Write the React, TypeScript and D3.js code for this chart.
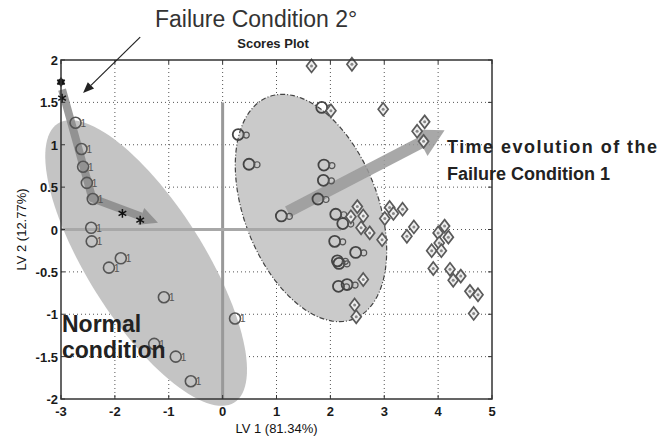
import React from 'react';
import * as d3 from 'd3';

const width = 662;
const height = 437;

// axis ticks
const xTicks = [-3, -2, -1, 0, 1, 2, 3, 4, 5];
const yTicks = [-2, -1.5, -1, -0.5, 0, 0.5, 1, 1.5, 2];

// normal condition (class 1) scores
const normalX = [-2.73, -2.62, -2.59, -2.52, -2.41, -2.44, -2.43, -1.89, -2.11, -1.09, 0.23, -1.27, -0.87, -0.59];
const normalY = [1.26, 0.95, 0.74, 0.55, 0.36, 0.02, -0.14, -0.34, -0.45, -0.8, -1.05, -1.35, -1.5, -1.79];

// failure condition 1, early samples (circles)
const circleX = [1.84, 0.29, 0.49, 1.88, 1.87, 1.77, 1.09, 2.1, 2.23, 2.08, 2.47, 2.13, 2.16, 2.15, 2.31];
const circleY = [1.44, 1.12, 0.77, 0.76, 0.58, 0.36, 0.16, 0.18, 0.07, -0.14, -0.27, -0.37, -0.4, -0.67, -0.65];

// failure condition 1, later samples (diamonds)
const diamondX = [1.65, 2.4, 2.01, 2.98, 3.75, 3.61, 3.73, 2.5, 2.38, 2.61, 2.57, 2.73, 2.96, 3.1, 3.34, 3.01, 3.17, 3.42,
  3.55, 4.12, 4.0, 4.19, 4.02, 3.88, 4.06, 3.91, 4.22, 4.28, 4.42, 4.59, 4.74, 4.66, 2.61, 2.45, 2.48];
const diamondY = [1.93, 1.95, 1.4, 1.42, 1.27, 1.16, 1.04, 0.27, 0.15, 0.16, 0.02, -0.04, -0.12, 0.26, 0.24, 0.13, 0.19, -0.08,
  0.03, 0.04, -0.04, -0.09, -0.16, -0.25, -0.25, -0.46, -0.47, -0.6, -0.55, -0.73, -0.77, -0.99, -0.59, -0.89, -1.03];

// failure condition 2 (stars)
const starX = [-3.0, -2.98, -1.86, -1.53];
const starY = [1.74, 1.55, 0.19, 0.11];

// annotation arrows (data units)
const normalArrowX = [-2.98, -2.42, -1.2];
const normalArrowY = [1.65, 0.37, 0.08];
const failArrowX = [1.21, 4.12];
const failArrowY = [0.21, 1.17];
const pointerX = [-1.53, -2.59];
const pointerY = [2.27, 1.61];

// class ellipses: centre in data units, radii in px, angle in degrees
const ellipseCx = [-1.42, 1.64];
const ellipseCy = [-0.395, 0.254];
const ellipseRx = [165, 119];
const ellipseRy = [58, 67];
const ellipseAngle = [57.7, 69];

const margin = { top: 60, right: 170, bottom: 38, left: 61 };
const x = d3.scaleLinear().domain([-3, 5]).range([margin.left, width - margin.right]);
const y = d3.scaleLinear().domain([-2, 2]).range([height - margin.bottom, margin.top]);

const ellipsePath = (i: number) => {
  const cx = x(ellipseCx[i]);
  const cy = y(ellipseCy[i]);
  const a = (ellipseAngle[i] * Math.PI) / 180;
  const pts: [number, number][] = d3.range(0, 120).map((k) => {
    const t = (k / 120) * Math.PI * 2;
    const ex = ellipseRx[i] * Math.cos(t);
    const ey = ellipseRy[i] * Math.sin(t);
    return [cx + ex * Math.cos(a) - ey * Math.sin(a), cy + ex * Math.sin(a) + ey * Math.cos(a)];
  });
  return d3.line().curve(d3.curveLinearClosed)(pts) as string;
};

// shaft + triangular head, all in px
const arrow = (xs: number[], ys: number[], headLen: number, headHalf: number) => {
  const pts = xs.map((v, i) => [x(v), y(ys[i])] as [number, number]);
  const tip = pts[pts.length - 1];
  const prev = pts[pts.length - 2];
  const dx = tip[0] - prev[0];
  const dy = tip[1] - prev[1];
  const len = Math.hypot(dx, dy);
  const ux = dx / len;
  const uy = dy / len;
  const base: [number, number] = [tip[0] - ux * headLen, tip[1] - uy * headLen];
  const shaft = d3.line()([...pts.slice(0, -1), base]) as string;
  const head = `M${tip[0]},${tip[1]}L${base[0] - uy * headHalf},${base[1] + ux * headHalf}L${base[0] + uy * headHalf},${base[1] - ux * headHalf}Z`;
  return { shaft, head };
};

const diamond = 'M0,-6.5L5,0L0,6.5L-5,0Z';
const asterisk = d3.symbol(d3.symbolAsterisk, 55)() as string;

const font = "'Liberation Sans', Arial, sans-serif";

export default function App() {
  const leftArrow = arrow(normalArrowX, normalArrowY, 18, 9);
  const rightArrow = arrow(failArrowX, failArrowY, 27, 15);
  const pointer = arrow(pointerX, pointerY, 11, 4.5);
  const x0 = margin.left;
  const x1 = width - margin.right;
  const y0 = margin.top;
  const y1 = height - margin.bottom;

  return (
    <div style={{ position: 'absolute', left: 0, top: 0 }}>
      <svg width={width} height={height} style={{ display: 'block', background: '#fff' }}>
        {/* dotted grid */}
        {xTicks.slice(1, -1).map((t) => (
          <line key={'gx' + t} x1={x(t)} x2={x(t)} y1={y0} y2={y1} stroke="#555" strokeWidth={1} strokeDasharray="1,3" />
        ))}
        {yTicks.slice(1, -1).map((t) => (
          <line key={'gy' + t} x1={x0} x2={x1} y1={y(t)} y2={y(t)} stroke="#555" strokeWidth={1} strokeDasharray="1,3" />
        ))}

        {/* class ellipses */}
        <path d={ellipsePath(0)} fill="#c4c4c4" />
        <path d={ellipsePath(1)} fill="#cacaca" stroke="#444" strokeWidth={1.2} strokeDasharray="5,2,1,2" />

        {/* zero lines */}
        <line x1={x(0)} x2={x(0)} y1={y(1.5)} y2={y1} stroke="#999" strokeWidth={3} />
        <line x1={x0} x2={x(2.2)} y1={y(0)} y2={y(0)} stroke="#a8a8a8" strokeWidth={3} />

        {/* evolution arrows */}
        <g opacity={0.85}>
          <path d={leftArrow.shaft} fill="none" stroke="#8a8a8a" strokeWidth={8} strokeLinejoin="round" />
          <path d={leftArrow.head} fill="#8a8a8a" />
          <path d={rightArrow.shaft} fill="none" stroke="#9a9a9a" strokeWidth={12} />
          <path d={rightArrow.head} fill="#9a9a9a" />
        </g>

        {/* normal condition points */}
        {normalX.map((v, i) => (
          <g key={'n' + i} transform={`translate(${x(v)},${y(normalY[i])})`}>
            <circle r={5.5} fill="none" stroke="#555" strokeWidth={1.6} />
            <text x={5} y={4} fontSize={10} fill="#555" fontFamily={font}>1</text>
          </g>
        ))}

        {/* failure 1 circles */}
        {circleX.map((v, i) => (
          <g key={'c' + i} transform={`translate(${x(v)},${y(circleY[i])})`}>
            <circle r={5.5} fill="none" stroke="#444" strokeWidth={1.8} />
            <circle cx={8} cy={0.5} r={3} fill="none" stroke="#555" strokeWidth={1.2} />
          </g>
        ))}

        {/* failure 1 diamonds */}
        {diamondX.map((v, i) => (
          <g key={'d' + i} transform={`translate(${x(v)},${y(diamondY[i])})`}>
            <path d={diamond} fill="#eee" stroke="#5a5a5a" strokeWidth={1.7} />
            <circle r={1.5} fill="#888" />
          </g>
        ))}

        {/* failure 2 stars */}
        <circle cx={x(starX[0])} cy={y(starY[0])} r={3.5} fill="#222" />
        {starX.map((v, i) => (
          <path key={'s' + i} d={asterisk} transform={`translate(${x(v)},${y(starY[i])})`} fill="none" stroke="#111" strokeWidth={1.5} />
        ))}

        {/* frame with inward ticks */}
        <rect x={x0} y={y0} width={x1 - x0} height={y1 - y0} fill="none" stroke="#333" strokeWidth={1.5} />
        {xTicks.map((t) => (
          <g key={'tx' + t}>
            <line x1={x(t)} x2={x(t)} y1={y1} y2={y1 - 4} stroke="#333" />
            <line x1={x(t)} x2={x(t)} y1={y0} y2={y0 + 4} stroke="#333" />
            <text x={x(t)} y={416} textAnchor="middle" fontSize={13} fontWeight="bold" fill="#1a1a1a" fontFamily={font}>{t}</text>
          </g>
        ))}
        {yTicks.map((t) => (
          <g key={'ty' + t}>
            <line x1={x0} x2={x0 + 4} y1={y(t)} y2={y(t)} stroke="#333" />
            <line x1={x1} x2={x1 - 4} y1={y(t)} y2={y(t)} stroke="#333" />
            <text x={x0 - 3} y={y(t) + 5} textAnchor="end" fontSize={13} fontWeight="bold" fill="#1a1a1a" fontFamily={font}>{t}</text>
          </g>
        ))}

        {/* axis labels */}
        <text x={(x0 + x1) / 2} y={433} textAnchor="middle" fontSize={13} fill="#111" fontFamily={font}>LV 1 (81.34%)</text>
        <text transform={`translate(26,${(y0 + y1) / 2}) rotate(-90)`} textAnchor="middle" fontSize={13} fill="#111" fontFamily={font}>LV 2 (12.77%)</text>

        {/* titles */}
        <text x={155} y={27} fontSize={23} fill="#333" fontFamily={font}>Failure Condition 2°</text>
        <text x={273} y={48} textAnchor="middle" fontSize={13} fontWeight="bold" fill="#222" fontFamily={font}>Scores Plot</text>

        {/* pointer arrow */}
        <path d={pointer.shaft} fill="none" stroke="#222" strokeWidth={1.2} />
        <path d={pointer.head} fill="#222" />

        {/* annotations */}
        <text fontSize={23} fontWeight="bold" fill="#222" fontFamily={font}>
          <tspan x={62} y={332}>Normal</tspan>
          <tspan x={62} y={358}>condition</tspan>
        </text>
        <text fontSize={18} fontWeight="bold" fill="#222" fontFamily={font}>
          <tspan x={447} y={153} textLength={210} lengthAdjust="spacing">Time evolution of the</tspan>
          <tspan x={447} y={180}>Failure Condition 1</tspan>
        </text>
      </svg>
    </div>
  );
}
